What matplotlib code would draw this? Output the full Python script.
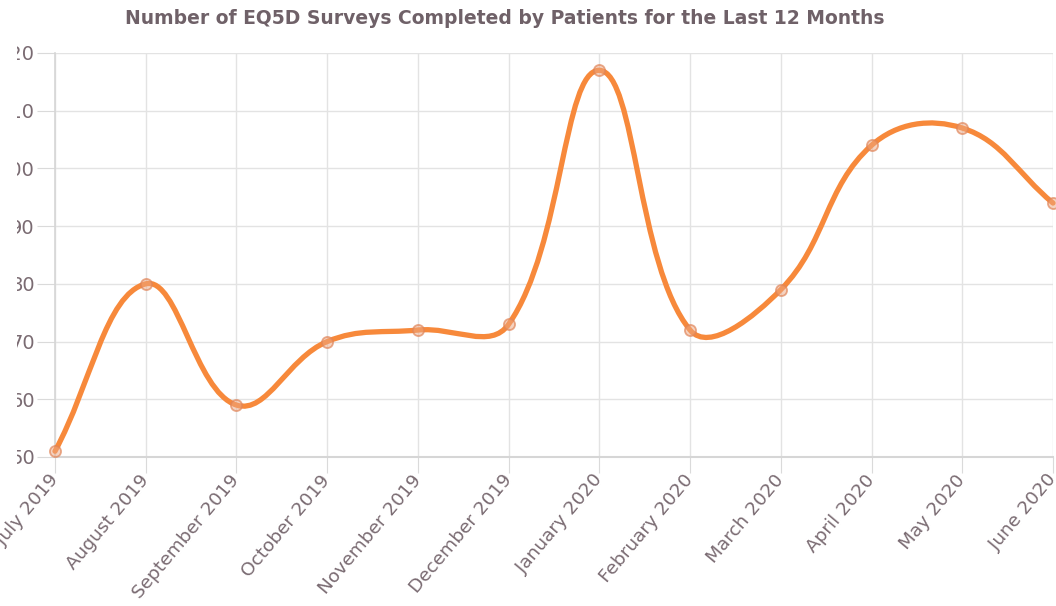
import numpy as np
import matplotlib.pyplot as plt
from matplotlib.path import Path
from matplotlib.patches import PathPatch
from matplotlib.transforms import Bbox

# данные с графика
months = ['July 2019', 'August 2019', 'September 2019', 'October 2019',
          'November 2019', 'December 2019', 'January 2020', 'February 2020',
          'March 2020', 'April 2020', 'May 2020', 'June 2020']
surveys = [51, 80, 59, 70, 72, 73, 117, 72, 79, 104, 107, 94]
y_ticks = [50, 60, 70, 80, 90, 100, 110, 120]

line_color = '#f7893b'
text_color = '#7a6b72'
grid_color = '#e3e3e3'

plt.rcParams['font.family'] = ['DejaVu Sans']

fig = plt.figure(figsize=(10.56, 6.06), dpi=100)
W, H = 1056, 606
ax = fig.add_axes([55 / W, 1 - 457 / H, (1053 - 55) / W, (457 - 53) / H])

x = np.arange(len(months))
ax.set_xlim(0, len(months) - 1)
ax.set_ylim(50, 120)
ax.set_xticks(x)
ax.set_xticklabels(months)
ax.set_yticks(y_ticks)

ax.grid(True, color=grid_color, linewidth=1.0)
for s in ax.spines.values():
    s.set_visible(False)
ax.spines['left'].set_visible(True)
ax.spines['bottom'].set_visible(True)
ax.spines['left'].set_color('#d6d6d6')
ax.spines['bottom'].set_color('#d6d6d6')
ax.spines['left'].set_linewidth(1.2)
ax.spines['bottom'].set_linewidth(1.5)

ax.tick_params(axis='x', length=11.5, width=0.8, color='#dadada', pad=3,
               labelsize=13.3, labelcolor=text_color)
ax.tick_params(axis='y', length=13, width=0.8, color='#dadada', pad=1.5,
               labelsize=14, labelcolor=text_color)
for lab in ax.get_xticklabels():
    lab.set_rotation(50)
    lab.set_ha('right')
    lab.set_va('center')
    lab.set_rotation_mode('anchor')

# подписи оси y обрезаны слева как на скриншоте
clip = Bbox.from_extents(17, 0, W, H)
for lab in ax.get_yticklabels():
    lab.set_clip_box(clip)
    lab.set_clip_on(True)

# кривая как в Chart.js (tension 0.4), контрольные точки в пикселях
tension = 0.4
pts = ax.transData.transform(np.column_stack([x, surveys]))
n = len(pts)
cp_prev = np.zeros_like(pts)
cp_next = np.zeros_like(pts)
for i in range(n):
    prev = pts[i - 1] if i > 0 else pts[i]
    cur = pts[i]
    nxt = pts[i + 1] if i < n - 1 else pts[i]
    d01 = np.hypot(*(cur - prev))
    d12 = np.hypot(*(nxt - cur))
    s01 = d01 / (d01 + d12)
    s12 = d12 / (d01 + d12)
    cp_prev[i] = cur - tension * s01 * (nxt - prev)
    cp_next[i] = cur + tension * s12 * (nxt - prev)

verts = [pts[0]]
codes = [Path.MOVETO]
for i in range(n - 1):
    verts += [cp_next[i], cp_prev[i + 1], pts[i + 1]]
    codes += [Path.CURVE4] * 3
inv = ax.transData.inverted()
path = Path(inv.transform(np.array(verts)), codes)
ax.add_patch(PathPatch(path, facecolor='none', edgecolor=line_color,
                       linewidth=3.8, capstyle='round', joinstyle='round',
                       zorder=3, clip_on=False))

ax.plot(x, surveys, linestyle='none', marker='o', markersize=8,
        markerfacecolor=(0.93, 0.66, 0.52, 0.5),
        markeredgecolor=(0.88, 0.52, 0.35, 0.7), markeredgewidth=1.3,
        zorder=4, clip_on=False)

fig.text(505 / W, 1 - 19 / H,
         'Number of EQ5D Surveys Completed by Patients for the Last 12 Months',
         ha='center', va='center', fontsize=13.5, fontweight='bold',
         color='#6f6168')

fig.savefig('out.png', dpi=100)
